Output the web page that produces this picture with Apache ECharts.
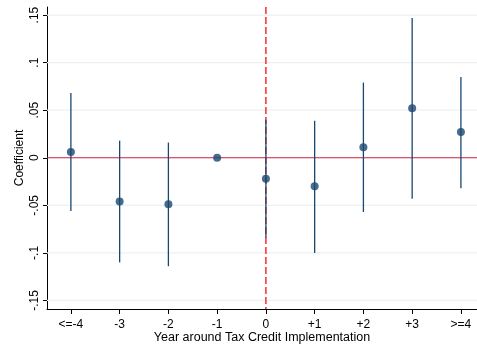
<!DOCTYPE html>
<html>
<head>
<meta charset="utf-8">
<script src="https://cdn.jsdelivr.net/npm/echarts@6/dist/echarts.min.js"></script>
<style>
  html, body { margin: 0; padding: 0; background: #fff; }
  #chart { width: 477px; height: 347px; }
</style>
</head>
<body>
<div id="chart"></div>
<script>
// Event-study estimates by year relative to the tax credit
const categories = ['<=-4', '-3', '-2', '-1', '0', '+1', '+2', '+3', '>=4'];
const coefficients = [0.006, -0.046, -0.049, 0.000, -0.022, -0.030, 0.011, 0.052, 0.027];
const ciLower = [-0.056, -0.110, -0.114, null, -0.084, -0.100, -0.057, -0.043, -0.032];
const ciUpper = [0.068, 0.018, 0.016, null, 0.040, 0.039, 0.079, 0.147, 0.085];
const yTicks = [-0.15, -0.1, -0.05, 0, 0.05, 0.1, 0.15];
const yTickLabels = ['-.15', '-.1', '-.05', '0', '.05', '.1', '.15'];
const eventYear = 4; // index of year 0

const navy = '#1a476f';
const font = 'Liberation Sans, Arial, Helvetica, sans-serif';
const idx = categories.map((_, i) => i);
const X_MIN = -0.49, X_MAX = 8.33, Y_MIN = -0.159, Y_MAX = 0.1585;

const ciData = idx.filter(i => ciLower[i] !== null).map(i => [i, ciLower[i], ciUpper[i]]);
const pointData = idx.map(i => [i, coefficients[i]]);

const chart = echarts.init(document.getElementById('chart'), null, { renderer: 'canvas' });
chart.setOption({
  animation: false,
  backgroundColor: '#fff',
  grid: { left: 47, right: 0, top: 7, bottom: 38, containLabel: false, outerBoundsMode: 'none' },
  xAxis: {
    type: 'value',
    min: X_MIN,
    max: X_MAX,
    name: 'Year around Tax Credit Implementation',
    nameLocation: 'middle',
    nameGap: 22,
    nameMoveOverlap: false,
    nameTextStyle: { fontFamily: font, fontSize: 12.5, color: '#000' },
    axisLine: { show: true, onZero: false, lineStyle: { color: '#000', width: 1 } },
    axisTick: { show: true, length: 5, customValues: idx, lineStyle: { color: '#000' } },
    axisLabel: {
      customValues: idx,
      margin: 10,
      fontFamily: font, fontSize: 12, color: '#000',
      formatter: v => categories[Math.round(v)]
    },
    splitLine: { show: false }
  },
  yAxis: {
    type: 'value',
    min: Y_MIN,
    max: Y_MAX,
    name: 'Coefficient',
    nameLocation: 'middle',
    nameRotate: 90,
    nameGap: 21,
    nameMoveOverlap: false,
    nameTextStyle: { fontFamily: font, fontSize: 12, color: '#000' },
    axisLine: { show: true, onZero: false, lineStyle: { color: '#000', width: 1 } },
    axisTick: { show: true, length: 4, customValues: yTicks, lineStyle: { color: '#000' } },
    axisLabel: {
      customValues: yTicks,
      rotate: 90,
      margin: 6,
      fontFamily: font, fontSize: 12, color: '#000',
      formatter: v => yTickLabels[yTicks.findIndex(t => Math.abs(t - v) < 1e-9)]
    },
    splitLine: { show: false }
  },
  series: [
    {
      // horizontal grid lines; the zero line is drawn in red
      type: 'custom',
      silent: true,
      z: 1,
      data: yTicks,
      renderItem: (params, api) => {
        const t = api.value(0);
        const a = api.coord([X_MIN, t]);
        const b = api.coord([X_MAX, t]);
        const isZero = Math.abs(t) < 1e-9;
        return {
          type: 'line',
          z2: isZero ? 2 : 1,
          shape: { x1: a[0], y1: a[1], x2: b[0], y2: b[1] },
          style: isZero ? { stroke: '#c8203f', lineWidth: 1 } : { stroke: '#eaf2f3', lineWidth: 1.2 }
        };
      },
      encode: { y: 0 }
    },
    {
      // dashed marker at the implementation year
      type: 'custom',
      silent: true,
      z: 2,
      data: [eventYear],
      renderItem: (params, api) => {
        const x = api.value(0);
        const a = api.coord([x, Y_MAX]);
        const b = api.coord([x, Y_MIN]);
        return {
          type: 'line',
          shape: { x1: a[0], y1: a[1], x2: b[0], y2: b[1] },
          style: { stroke: '#ff2a2a', lineWidth: 1.5, lineDash: [7, 3] }
        };
      },
      encode: { x: 0 }
    },
    {
      // confidence intervals
      type: 'custom',
      z: 3,
      data: ciData,
      renderItem: (params, api) => {
        const lo = api.coord([api.value(0), api.value(1)]);
        const hi = api.coord([api.value(0), api.value(2)]);
        return {
          type: 'line',
          shape: { x1: lo[0], y1: lo[1], x2: hi[0], y2: hi[1] },
          style: { stroke: navy, lineWidth: 1.3 }
        };
      },
      encode: { x: 0, y: [1, 2] }
    },
    {
      type: 'scatter',
      z: 4,
      data: pointData,
      symbol: 'circle',
      symbolSize: 8,
      itemStyle: { color: navy }
    }
  ]
});
</script>
</body>
</html>
